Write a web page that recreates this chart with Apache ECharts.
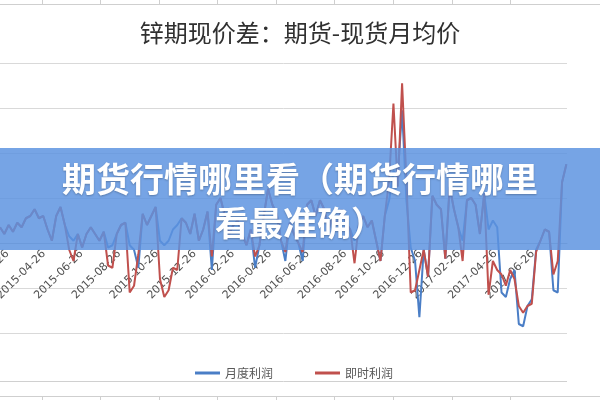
<!DOCTYPE html>
<html>
<head>
<meta charset="utf-8">
<script src="https://cdn.jsdelivr.net/npm/echarts@6/dist/echarts.min.js"></script>
<style>html,body{margin:0;padding:0;background:#fff}#c{width:600px;height:400px}</style>
</head>
<body>
<div id="c"></div>
<script>
// ---- data (weekly observations, starting 2015-02-14) ----
var startDate = '2015-02-14';
var endDate = '2017-08-20';
var seriesNames = ['月度利润', '即时利润'];
var monthlyProfit = [70,40,80,50,90,70,110,120,150,110,120,60,10,120,160,80,30,10,40,-20,
  40,70,40,10,50,-20,-10,40,80,90,-10,-30,-110,130,80,120,160,10,-10,10,
  60,80,110,90,40,130,10,60,140,-120,170,200,120,40,80,100,40,-10,60,-110,
  -10,120,240,170,130,10,-80,90,40,0,-80,170,190,120,190,150,60,120,80,150,
  90,60,10,80,120,70,100,10,-80,120,190,320,300,590,190,-20,-80,-330,-30,-150,
  210,170,150,-70,250,150,70,10,190,200,170,40,220,60,100,70,-220,-240,-160,-120,
  -360,-370,-280,-250,-30,10,60,50,-210,-220,270,350];
var instantProfit = [70,40,80,50,90,70,110,120,150,110,120,60,10,120,160,80,-30,-80,40,-20,
  40,70,40,10,50,-100,-110,40,80,90,-220,-190,-50,130,80,120,160,-160,-240,-210,
  -110,-120,110,90,40,130,10,60,140,-60,170,200,120,40,80,100,40,-10,60,-60,
  -10,120,240,170,130,10,-40,90,40,0,-40,170,190,120,190,150,60,120,80,150,
  90,60,-90,80,120,70,100,10,-80,120,280,620,250,710,280,-220,-210,-120,-30,-150,
  210,170,150,-70,250,150,70,-80,190,200,170,40,220,-230,-80,-120,-140,-190,-120,-160,
  -280,-310,-280,-270,-40,10,60,50,-140,-80,270,350];
var tickLabels = ['2015-02-26','2015-04-26','2015-06-26','2015-08-26','2015-10-26','2015-12-26',
  '2016-02-26','2016-04-26','2016-06-26','2016-08-26','2016-10-26','2016-12-26',
  '2017-02-26','2017-04-26','2017-06-26'];

// ---- build daily category axis ----
function fmt(d){
  var m = d.getUTCMonth()+1, dd = d.getUTCDate();
  return d.getUTCFullYear()+'-'+(m<10?'0':'')+m+'-'+(dd<10?'0':'')+dd;
}
var days = [];
var d0 = new Date(startDate+'T00:00:00Z'), d1 = new Date(endDate+'T00:00:00Z');
for (var t = d0.getTime(); t <= d1.getTime(); t += 86400000) days.push(fmt(new Date(t)));
function weekly(arr){ return arr.map(function(v,i){ return [i*7, v]; }); }
var tickSet = {};
tickLabels.forEach(function(s){ tickSet[s] = true; });

var chart = echarts.init(document.getElementById('c'));
var decoTicks = [42,100,159,217,276,334,393,452,510];
var graphics = [
  {type:'line', shape:{x1:0,y1:4.5,x2:600,y2:4.5}, style:{stroke:'#cfcfcf',lineWidth:1}, silent:true},
  {type:'line', shape:{x1:0,y1:381.5,x2:567,y2:381.5}, style:{stroke:'#d0d0d0',lineWidth:1}, silent:true},
  {type:'line', shape:{x1:0,y1:396.5,x2:600,y2:396.5}, style:{stroke:'#cfcfcf',lineWidth:1}, silent:true},
  {type:'rect', shape:{x:0,y:148,width:600,height:102}, style:{fill:'rgba(92,146,224,0.84)'}, z:100, silent:true},
  {type:'text', x:300, y:201, z:101, silent:true,
   style:{text:'期货行情哪里看（期货行情哪里\n看最准确）', fill:'#ffffff',
          font:'bold 34px "Noto Sans CJK SC"', align:'center', verticalAlign:'middle',
          textAlign:'center', textVerticalAlign:'middle', lineHeight:44,
          textShadowColor:'rgba(0,0,0,0.25)', textShadowBlur:2, textShadowOffsetY:1}}
];
decoTicks.forEach(function(x){
  graphics.push({type:'line', shape:{x1:x+0.5,y1:0,x2:x+0.5,y2:4.5}, style:{stroke:'#cfcfcf',lineWidth:1}, silent:true});
  graphics.push({type:'line', shape:{x1:x+0.5,y1:396.5,x2:x+0.5,y2:400}, style:{stroke:'#cfcfcf',lineWidth:1}, silent:true});
});

chart.setOption({
  animation:false,
  backgroundColor:'#ffffff',
  title:{text:'锌期现价差：期货-现货月均价', left:'center', top:16,
    textStyle:{fontFamily:'"Noto Sans CJK SC"', fontSize:24, fontWeight:'normal', color:'#303030'}},
  legend:{data:seriesNames, left:190, top:362, icon:'rect', itemWidth:25, itemHeight:3, itemGap:42,
    textStyle:{fontFamily:'"Noto Sans CJK SC"', fontSize:12, color:'#595959'}},
  grid:{left:0, right:33, top:63, bottom:67, containLabel:false, outerBoundsMode:'none'},
  xAxis:{type:'category', data:days, boundaryGap:false, offset:-90,
    axisLine:{onZero:false, lineStyle:{color:'#bfbfbf'}},
    axisTick:{show:false},
    axisLabel:{rotate:45, margin:9, fontSize:11, color:'#505050', fontFamily:'"DejaVu Sans"',
      hideOverlap:false,
      interval:function(idx, val){ return !!tickSet[val]; }},
    splitLine:{show:false}},
  yAxis:{type:'value', min:-400, max:800, interval:200,
    axisLabel:{show:false}, axisLine:{show:false}, axisTick:{show:false},
    splitLine:{lineStyle:{color:'#d9d9d9', width:1}}},
  series:[
    {name:seriesNames[0], type:'line', data:weekly(monthlyProfit), showSymbol:false,
     lineStyle:{width:2, color:'#4a7ec6'}, itemStyle:{color:'#4a7ec6'}},
    {name:seriesNames[1], type:'line', data:weekly(instantProfit), showSymbol:false,
     lineStyle:{width:2, color:'#c0504d'}, itemStyle:{color:'#c0504d'}}
  ],
  graphic:graphics
});
</script>
</body>
</html>
